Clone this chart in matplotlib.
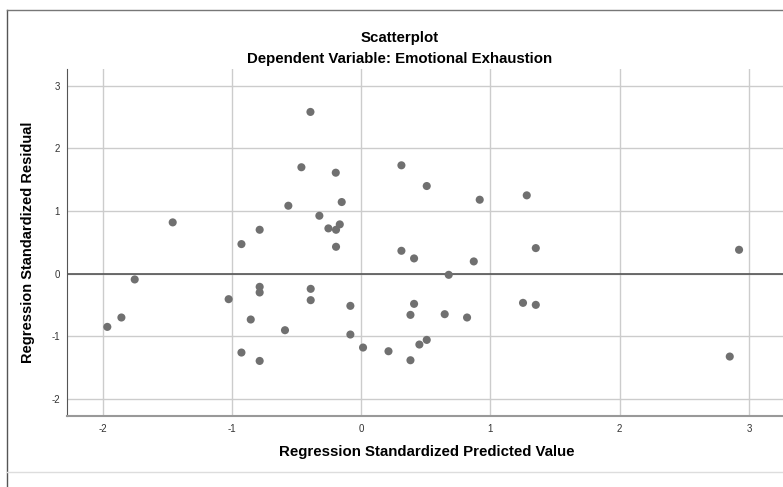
import numpy as np
import matplotlib
matplotlib.use('Agg')
import matplotlib.pyplot as plt
from matplotlib.lines import Line2D

plt.rcParams['font.family'] = ['Liberation Sans', 'DejaVu Sans']
plt.rcParams['axes.unicode_minus'] = False

# Standardized predicted values (x) and standardized residuals (y)
pred = [-0.393, -0.463, -0.197, -0.564, -0.151, -0.324, -1.459, -0.254, -0.166,
        -0.195, -0.786, -0.927, -0.195, -1.753, -0.786, -0.786, -0.391, -0.391,
        -1.026, -0.084, -1.856, -1.965, -0.855, -0.590, -0.084, -0.927, -0.786,
        0.311, 0.507, 0.917, 1.281, 0.311, 0.409, 0.871, 1.351, 2.924,
        0.677, 0.409, 0.381, 0.646, 0.819, 1.252, 1.351, 0.014, 0.211,
        0.450, 0.507, 0.381, 2.852]
resid = [2.584, 1.700, 1.613, 1.085, 1.144, 0.925, 0.819, 0.723, 0.787,
         0.701, 0.701, 0.472, 0.429, -0.093, -0.211, -0.301, -0.243, -0.424,
         -0.408, -0.515, -0.701, -0.851, -0.733, -0.904, -0.973, -1.261, -1.395,
         1.731, 1.400, 1.181, 1.251, 0.365, 0.243, 0.195, 0.408, 0.381,
         -0.019, -0.483, -0.659, -0.648, -0.701, -0.467, -0.499, -1.181, -1.240,
         -1.133, -1.059, -1.384, -1.325]

x_ticks = [-2, -1, 0, 1, 2, 3]
y_ticks = [-2, -1, 0, 1, 2, 3]

W, H = 783, 487
fig = plt.figure(figsize=(W / 100, H / 100), dpi=100)

# axes placed in pixel terms (left, bottom, width, height)
ax = fig.add_axes([67 / W, (H - 416) / H, (787 - 67) / W, (416 - 69) / H])
ax.set_xlim(-2.277, 3.295)
ax.set_ylim(-2.275, 3.27)

ax.set_xticks(x_ticks)
ax.set_yticks(y_ticks)
ax.grid(True, color='#cccccc', linewidth=1.0)
ax.set_axisbelow(True)
ax.axhline(0, color='#555555', linewidth=1.2, zorder=1)

ax.scatter(pred, resid, s=34, color='#707070', edgecolors='none', zorder=3)

for side in ['top', 'right']:
    ax.spines[side].set_visible(False)
ax.spines['left'].set_color('#555555')
ax.spines['bottom'].set_color('#999999')
ax.spines['bottom'].set_linewidth(1.5)
ax.tick_params(length=0, labelsize=7, colors='#333333')
ax.tick_params(axis='y', pad=5)
ax.tick_params(axis='x', pad=6)

ax.set_xlabel('Regression Standardized Predicted Value', fontsize=10.8,
              fontweight='bold', labelpad=8)
ax.set_ylabel('Regression Standardized Residual', fontsize=10.5,
              fontweight='bold')
ax.yaxis.set_label_coords(-0.0445, 0.5)

fig.text(400 / W, 1 - 38 / H, 'Scatterplot', ha='center', va='center',
         fontsize=10.8, fontweight='bold')
fig.text(400 / W, 1 - 59 / H, 'Dependent Variable: Emotional Exhaustion',
         ha='center', va='center', fontsize=10.8, fontweight='bold')

# outer frame and bottom separator
fig.add_artist(Line2D([7 / W, 7 / W], [0, 1 - 10 / H], color='#555555', lw=1))
fig.add_artist(Line2D([7 / W, 1], [1 - 10 / H, 1 - 10 / H], color='#777777', lw=1))
fig.add_artist(Line2D([7 / W, 1], [1 - 472 / H, 1 - 472 / H], color='#dddddd', lw=1))

fig.savefig('out.png', dpi=100)
